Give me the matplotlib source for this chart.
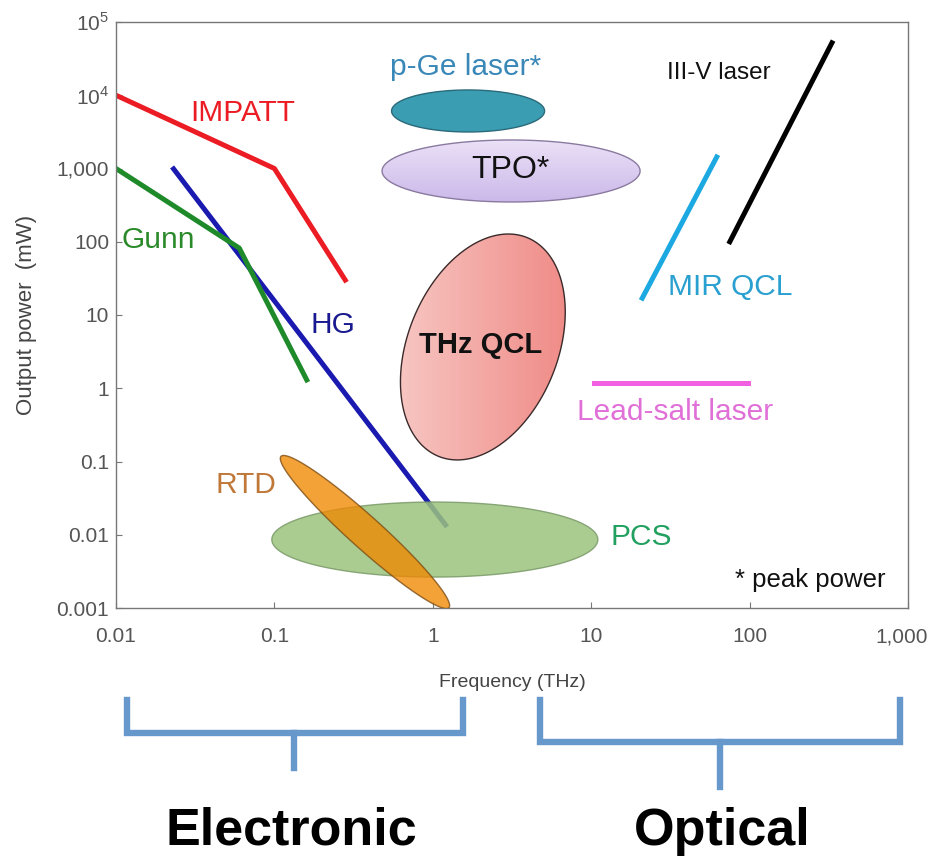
import numpy as np
import matplotlib
matplotlib.use("Agg")
import matplotlib.pyplot as plt
from matplotlib import font_manager as fm
from matplotlib.patches import Polygon

# ---------------- data ----------------
impatt_f = [0.01, 0.1, 0.28]
impatt_p = [1e4, 1000, 30]
gunn_f = [0.01, 0.06, 0.16]
gunn_p = [1000, 82, 1.3]
hg_f = [0.0226, 1.23]
hg_p = [1050, 0.0128]
mir_f = [21, 62]
mir_p = [17, 1435]
iiiv_f = [75, 331]
iiiv_p = [100, 52000]
lead_f = [10.4, 98]
lead_p = [1.18, 1.18]

# ellipse regions: centre (frequency THz, power mW)
pge_center = (1.67, 6100)
tpo_center = (3.12, 925)
thz_center = (2.07, 3.66)
pcs_center = (1.03, 0.0086)
rtd_center = (0.373, 0.0109)

x_ticks = [0.01, 0.1, 1, 10, 100, 1000]
x_ticklabels = ["0.01", "0.1", "1", "10", "100", "1,000"]
y_ticks = [0.001, 0.01, 0.1, 1, 10, 100, 1000, 1e4, 1e5]
y_ticklabels = ["0.001", "0.01", "0.1", "1", "10", "100", "1,000", "10$^4$", "10$^5$"]

# ---------------- fonts ----------------
names = {f.name for f in fm.fontManager.ttflist}
narrow = "Liberation Sans Narrow" if "Liberation Sans Narrow" in names else "Liberation Sans"
sans = "Liberation Sans"
plt.rcParams["font.family"] = [sans, "DejaVu Sans"]
plt.rcParams["mathtext.fontset"] = "custom"
plt.rcParams["mathtext.rm"] = narrow

W, H = 931, 858
fig = plt.figure(figsize=(W / 100, H / 100), dpi=100)
ax = fig.add_axes([116 / W, 1 - 608 / H, (908 - 116) / W, (608 - 22) / H])
ax.set_xscale("log")
ax.set_yscale("log")
ax.set_xlim(0.01, 1000)
ax.set_ylim(1e-3, 1e5)
ax.minorticks_off()
ax.set_xticks(x_ticks)
# last x label is placed separately (shifted right, as in the reference)
ax.set_xticklabels(x_ticklabels[:-1] + [""])
ax.set_yticks(y_ticks)
ax.set_yticklabels(y_ticklabels)
ax.tick_params(direction="in", length=4, width=0.8, color="#777777",
               labelcolor="#555555", labelsize=15)
ax.tick_params(axis="y", pad=5)
ax.tick_params(axis="x", pad=14)
for lab in ax.get_xticklabels() + ax.get_yticklabels():
    lab.set_fontfamily(narrow)
ax.annotate(x_ticklabels[-1], xy=(x_ticks[-1], 0), xycoords=("data", "axes fraction"),
            xytext=(14, -14), textcoords="offset points", ha="right", va="top",
            fontsize=15, fontfamily=narrow, color="#555555", annotation_clip=False)
for s in ax.spines.values():
    s.set_color("#777777")
    s.set_linewidth(1.0)

ax.set_xlabel("Frequency (THz)", fontsize=14, fontfamily=narrow, color="#444444", labelpad=20)
ax.set_ylabel("Output power  (mW)", fontsize=16, fontfamily=narrow, color="#444444", labelpad=14)


def ellipse_pts(center, a, b, angle):
    cx, cy = ax.transData.transform(center)
    t = np.linspace(0, 2 * np.pi, 240)
    u, v = a * np.cos(t), b * np.sin(t)
    th = np.radians(angle)
    X = cx + u * np.cos(th) - v * np.sin(th)
    Y = cy + u * np.sin(th) + v * np.cos(th)
    return ax.transData.inverted().transform(np.column_stack([X, Y]))


def gradient_ellipse(center, a, b, angle, c0, c1, direction, edge, z):
    pts = ellipse_pts(center, a, b, angle)
    poly = Polygon(pts, closed=True, facecolor="none", edgecolor=edge, lw=1.0, zorder=z + 0.1)
    ax.add_patch(poly)
    xs = np.geomspace(pts[:, 0].min() * 0.95, pts[:, 0].max() * 1.05, 80)
    ys = np.geomspace(pts[:, 1].min() * 0.9, pts[:, 1].max() * 1.1, 80)
    XX, YY = np.meshgrid(xs, ys)
    if direction == "x":
        f = (np.log10(XX) - np.log10(xs[0])) / (np.log10(xs[-1]) - np.log10(xs[0]))
    else:
        f = (np.log10(YY) - np.log10(ys[0])) / (np.log10(ys[-1]) - np.log10(ys[0]))
    c0 = np.array(matplotlib.colors.to_rgb(c0))
    c1 = np.array(matplotlib.colors.to_rgb(c1))
    rgb = c0[None, None, :] * (1 - f[..., None]) + c1[None, None, :] * f[..., None]
    mesh = ax.pcolormesh(XX, YY, rgb, shading="auto", zorder=z)
    mesh.set_clip_path(poly)


# lines
lw = 3.6
ax.plot(hg_f, hg_p, color="#1a1ab0", lw=lw, zorder=2, solid_capstyle="butt")
ax.plot(impatt_f, impatt_p, color="#ec1c24", lw=lw, zorder=2)
ax.plot(gunn_f, gunn_p, color="#1e8a2a", lw=lw, zorder=2)
ax.plot(mir_f, mir_p, color="#1ca8e0", lw=lw, zorder=2)
ax.plot(iiiv_f, iiiv_p, color="#000000", lw=lw, zorder=2)
ax.plot(lead_f, lead_p, color="#f060e0", lw=lw, zorder=2)

# ellipses
p = Polygon(ellipse_pts(pge_center, 76.5, 21, 0), closed=True,
            facecolor="#3a9db2", edgecolor="#2a6a7a", lw=1.0, zorder=3)
ax.add_patch(p)
gradient_ellipse(tpo_center, 129, 31, 0, "#c9b6e8", "#ece2f7", "y", "#8a7aa0", 3)
gradient_ellipse(thz_center, 118, 75, 68, "#f7c6c2", "#ef8a86", "x", "#3a2a2a", 3)
p = Polygon(ellipse_pts(pcs_center, 163, 37.5, 0), closed=True,
            facecolor="#9cc47e", edgecolor="#7a9a68", lw=1.0, alpha=0.85, zorder=4)
ax.add_patch(p)
p = Polygon(ellipse_pts(rtd_center, 113, 16, -42), closed=True,
            facecolor="#f08800", edgecolor="#7a4a10", lw=1.0, alpha=0.78, zorder=5)
ax.add_patch(p)

# labels
fs = 21.5
ax.text(0.0293, 5730, "IMPATT", color="#ec1c24", fontsize=fs, va="center", ha="left")
ax.text(0.0109, 106, "Gunn", color="#2a8a2a", fontsize=fs, va="center", ha="left")
ax.text(0.168, 7.3, "HG", color="#1a1a90", fontsize=fs, va="center", ha="left")
ax.text(0.0422, 0.0478, "RTD", color="#c07838", fontsize=fs, va="center", ha="left")
ax.text(13.2, 0.0093, "PCS", color="#22a060", fontsize=fs, va="center", ha="left")
ax.text(1.99, 3.9, "THz QCL", color="#111111", fontsize=21, fontweight="bold",
        va="center", ha="center", zorder=6)
ax.text(3.07, 955, "TPO*", color="#111111", fontsize=23, va="center", ha="center", zorder=6)
ax.text(0.537, 24300, "p-Ge laser*", color="#3a88b8", fontsize=fs, va="center", ha="left")
ax.text(30.1, 20100, "III-V laser", color="#111111", fontsize=17.5, va="center", ha="left")
ax.text(30.5, 24, "MIR QCL", color="#2aa0d0", fontsize=fs, va="center", ha="left")
ax.text(8.13, 0.474, "Lead-salt laser", color="#e070d8", fontsize=fs, va="center", ha="left")
ax.text(716, 0.0024, "* peak power", color="#111111", fontsize=18.5, va="center", ha="right")

# overlay for brackets
ov = fig.add_axes([0, 0, 1, 1], facecolor="none")
ov.set_xlim(0, W)
ov.set_ylim(H, 0)
ov.axis("off")
bc = "#6798cc"
blw = 4.6
ov.plot([127, 127, 463, 463], [700, 733, 733, 700], color=bc, lw=blw, solid_joinstyle="miter")
ov.plot([294, 294], [733, 768], color=bc, lw=blw)
ov.plot([540, 540, 900, 900], [700, 742, 742, 700], color=bc, lw=blw, solid_joinstyle="miter")
ov.plot([720, 720], [742, 787], color=bc, lw=blw)
ov.text(291, 831, "Electronic", fontsize=37.5, fontweight="bold", fontfamily=narrow,
        ha="center", va="center", color="black")
ov.text(722, 831, "Optical", fontsize=37.5, fontweight="bold", fontfamily=narrow,
        ha="center", va="center", color="black")

fig.savefig("out.png", dpi=100)
